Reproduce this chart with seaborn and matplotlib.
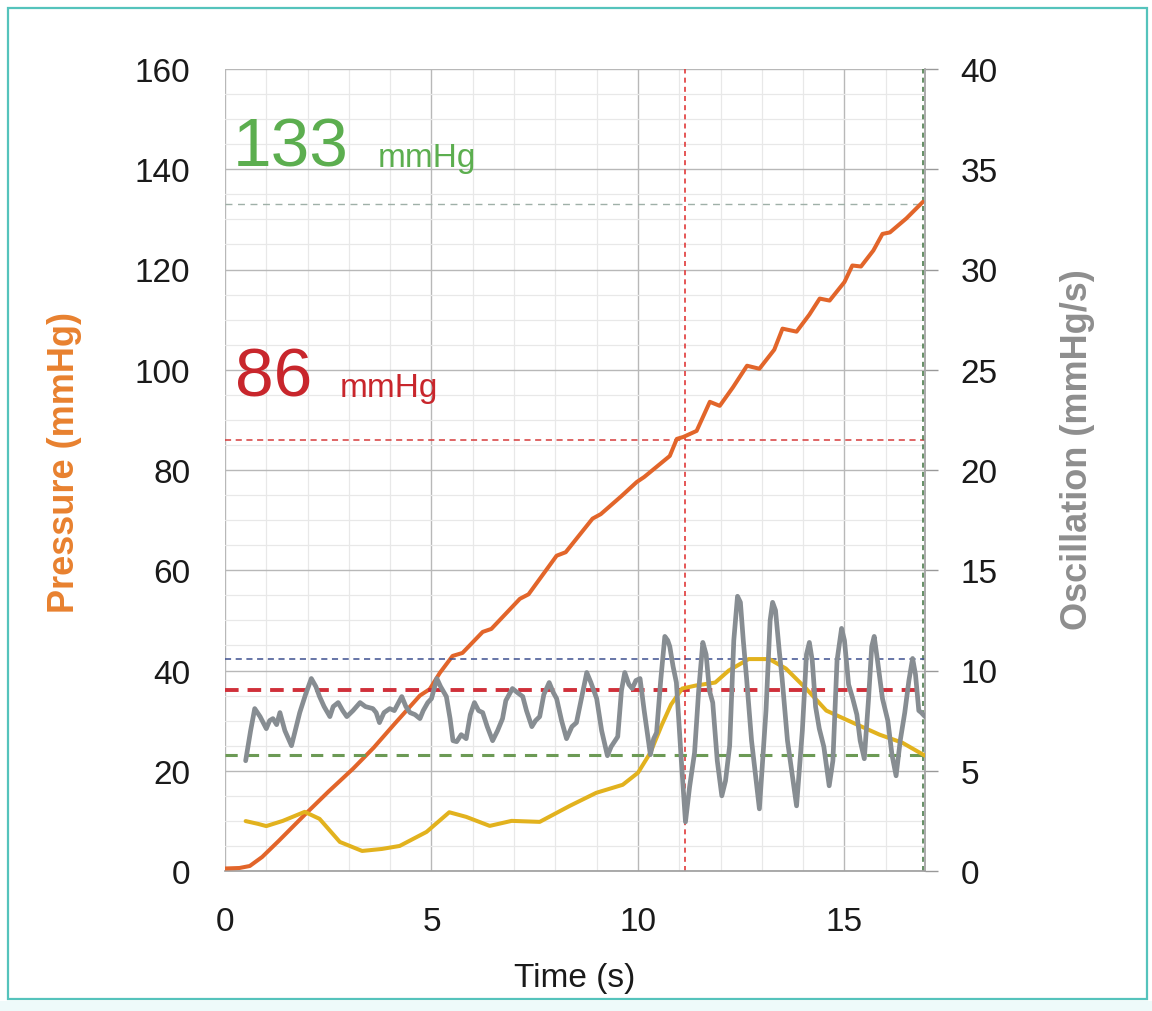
import numpy as np
import pandas as pd
import seaborn as sns
import matplotlib.pyplot as plt
from matplotlib.patches import Rectangle
from matplotlib.ticker import MultipleLocator

# cuff pressure (left axis, mmHg)
p_time = [0, 0.35, 0.6, 0.9, 1.3, 1.94, 2.5, 3.1, 3.6, 4.1, 4.72, 4.96, 5.2, 5.51, 5.75,
          6.24, 6.45, 7.14, 7.35, 8.03, 8.25, 8.9, 9.1, 9.6, 9.97, 10.15, 10.77, 10.94,
          11.1, 11.42, 11.74, 11.98, 12.3, 12.64, 12.94, 13.3, 13.5, 13.84, 14.15, 14.4,
          14.64, 15.0, 15.19, 15.4, 15.7, 15.92, 16.1, 16.5, 16.9]
p_mmhg = [0.5, 0.6, 1.0, 2.8, 6.0, 11.3, 15.8, 20.4, 24.6, 29.3, 35, 36.3, 39.5, 42.9, 43.5,
          47.7, 48.3, 54.3, 55.2, 62.9, 63.6, 70.3, 71.2, 74.8, 77.6, 78.6, 82.8, 86.2,
          86.6, 87.8, 93.6, 92.8, 96.5, 100.8, 100.2, 104, 108.2, 107.6, 111, 114.2,
          113.8, 117.5, 120.8, 120.6, 123.8, 127.1, 127.4, 130.2, 133.5]

# oscillation envelope (right axis, mmHg/s)
env_time = [0.5, 0.8, 1.0, 1.4, 1.93, 2.29, 2.78, 3.32, 3.8, 4.23, 4.88, 5.43, 5.84, 6.41,
            6.94, 7.62, 8.35, 8.99, 9.63, 10.0, 10.3, 10.58, 10.8, 11.07, 11.4, 11.87,
            12.2, 12.68, 13.18, 13.58, 14.07, 14.56, 15.2, 15.85, 16.4, 16.95]
env_val = [2.49, 2.35, 2.24, 2.5, 2.95, 2.6, 1.45, 1.0, 1.1, 1.25, 1.95, 2.93, 2.7, 2.25,
           2.5, 2.45, 3.25, 3.9, 4.3, 4.9, 5.9, 7.3, 8.3, 9.1, 9.25, 9.4,
           10.0, 10.57, 10.57, 10.1, 9.1, 8.0, 7.4, 6.8, 6.4, 5.75]

# raw oscillation signal (right axis, mmHg/s)
osc_time = [0.5, 0.62, 0.72, 0.85, 1.0, 1.08, 1.16, 1.25, 1.33, 1.45, 1.61, 1.7, 1.81,
            1.95, 2.09, 2.2, 2.29, 2.4, 2.54, 2.62, 2.74, 2.85, 2.95, 3.1, 3.27, 3.4,
            3.58, 3.66, 3.74, 3.85, 3.99, 4.1, 4.28, 4.38, 4.48, 4.6, 4.72, 4.8, 4.91,
            5.0, 5.13, 5.22, 5.36, 5.45, 5.52, 5.61, 5.72, 5.84, 5.94, 6.04, 6.14, 6.24,
            6.35, 6.48, 6.6, 6.72, 6.8, 6.96, 7.08, 7.21, 7.3, 7.43, 7.52, 7.62, 7.72,
            7.85, 7.95, 8.03, 8.15, 8.27, 8.4, 8.51, 8.62, 8.76, 8.86, 9.0, 9.12, 9.26,
            9.35, 9.51, 9.6, 9.68, 9.78, 9.86, 9.95, 10.05, 10.15, 10.3, 10.38, 10.45,
            10.55, 10.65, 10.72, 10.77, 10.85, 10.93, 11.05, 11.15, 11.25, 11.37, 11.47,
            11.57, 11.65, 11.73, 11.81, 11.92, 12.03, 12.12, 12.22, 12.32, 12.41, 12.48,
            12.55, 12.63, 12.75, 12.94, 13.1, 13.2, 13.26, 13.33, 13.42, 13.49, 13.62,
            13.84, 13.98, 14.08, 14.15, 14.22, 14.3, 14.39, 14.5, 14.63, 14.72, 14.82,
            14.93, 15.0, 15.1, 15.2, 15.3, 15.38, 15.48, 15.58, 15.66, 15.72, 15.8, 15.92,
            16.05, 16.15, 16.25, 16.35, 16.46, 16.56, 16.65, 16.72, 16.8, 16.86, 16.95]
osc_val = [5.5, 7.0, 8.1, 7.7, 7.1, 7.5, 7.6, 7.3, 7.9, 7.0, 6.25, 7.0, 7.9,
           8.8, 9.6, 9.2, 8.7, 8.2, 7.7, 8.2, 8.4, 8.0, 7.7, 8.0, 8.4, 8.2,
           8.1, 7.9, 7.4, 7.9, 8.1, 8.0, 8.7, 8.2, 7.9, 7.8, 7.6, 8.0, 8.4,
           8.6, 9.6, 9.2, 8.7, 7.6, 6.5, 6.45, 6.8, 6.6, 7.8, 8.4, 8.0, 7.9,
           7.2, 6.5, 7.0, 7.6, 8.5, 9.1, 8.9, 8.7, 8.0, 7.2, 7.5, 7.7, 8.8,
           9.4, 8.9, 8.6, 7.5, 6.6, 7.2, 7.4, 8.5, 9.9, 9.4, 8.6, 7.0, 5.75,
           6.2, 6.7, 9.0, 9.9, 9.3, 9.1, 9.5, 9.6, 8.0, 5.8, 6.6, 6.9,
           9.5, 11.7, 11.5, 11.2, 10.2, 9.4, 5.5, 2.45, 4.2, 5.9, 9.0,
           11.4, 10.8, 9.0, 8.4, 5.5, 3.75, 4.5, 6.25, 11.5, 13.7, 13.4,
           11.5, 9.6, 6.5, 3.1, 8.0, 12.5, 13.4, 13.0, 11.0, 9.6, 6.5,
           3.25, 7.0, 10.8, 11.4, 10.5, 8.2, 7.1, 6.2, 4.25, 5.5, 10.5,
           12.1, 11.5, 9.3, 8.6, 7.8, 6.5, 5.6, 8.5, 11.2, 11.7, 10.5, 8.6,
           7.5, 5.8, 4.75, 6.5, 7.9, 9.5, 10.6, 9.8, 8.0, 7.9, 7.7]

SYS = 133
DIA = 86
T_SYS = 16.9
T_DIA = 11.13
ENV_MAX = 10.55
DIA_LEVEL = 9.05
SYS_LEVEL = 5.8

pressure = pd.DataFrame({'t': p_time, 'p': p_mmhg})
envelope = pd.DataFrame({'t': env_time, 'v': env_val})
osc = pd.DataFrame({'t': osc_time, 'v': osc_val})

sns.set_theme(style='white')
plt.rcParams['font.family'] = ['Liberation Sans', 'DejaVu Sans']

fig = plt.figure(figsize=(11.52, 10.12), dpi=100)
fig.patches.append(Rectangle((0, 0), 1, 10 / 1012, transform=fig.transFigure,
                             facecolor='#eefafa', edgecolor='none', zorder=-5))
fig.patches.append(Rectangle((8 / 1152, 12 / 1012), 1139 / 1152, 991 / 1012,
                             transform=fig.transFigure, facecolor='none',
                             edgecolor='#55c3bc', lw=1.6, zorder=5))

ax = fig.add_axes([225 / 1152, 1 - 872 / 1012, 700 / 1152, 802 / 1012])
ax.set_facecolor('none')
ax2 = ax.twinx()

ax.set_xlim(0, 16.95)
ax.set_ylim(0, 160)
ax2.set_ylim(0, 40)
ax.xaxis.set_major_locator(MultipleLocator(5))
ax.xaxis.set_minor_locator(MultipleLocator(1))
ax.yaxis.set_major_locator(MultipleLocator(20))
ax.yaxis.set_minor_locator(MultipleLocator(5))
ax2.yaxis.set_major_locator(MultipleLocator(5))
ax.set_axisbelow(True)
ax.grid(which='minor', color='#e8e8e8', lw=0.9)
ax.grid(which='major', color='#b8b8b8', lw=1.0)

# reference lines
ax.axhline(SYS, color='#9fb0a8', lw=1.0, ls=(0, (5, 4)), zorder=1)
ax.axhline(DIA, color='#d63a3a', lw=1.1, ls=(0, (4, 3)), zorder=1)
ax.axvline(T_DIA, color='#e03a3a', lw=1.2, ls=(0, (3, 2.5)), zorder=1)
ax.axvline(T_SYS, color='#4d7d4d', lw=1.2, ls=(0, (3, 2.5)), zorder=1)
ax2.axhline(ENV_MAX, color='#3d4f8f', lw=1.1, ls=(0, (4, 3)), zorder=1)
ax2.axhline(DIA_LEVEL, color='#d0303a', lw=2.8, ls=(0, (3.5, 2.3)), zorder=1)
ax2.axhline(SYS_LEVEL, color='#6c9a55', lw=2.2, ls=(0, (4, 3)), zorder=1)

sns.lineplot(data=pressure, x='t', y='p', ax=ax, color='#e2652a', lw=2.9,
             errorbar=None, zorder=3)
sns.lineplot(data=envelope, x='t', y='v', ax=ax2, color='#e2b21e', lw=2.9,
             errorbar=None, zorder=3)
sns.lineplot(data=osc, x='t', y='v', ax=ax2, color='#878d92', lw=3.4,
             errorbar=None, zorder=4)

ax.text(0.19, 140.7, str(SYS), color='#5cae4f', fontsize=50, va='baseline')
ax.text(3.7, 140.7, 'mmHg', color='#5cae4f', fontsize=24, va='baseline')
ax.text(0.24, 94.8, str(DIA), color='#c8262c', fontsize=50, va='baseline')
ax.text(2.78, 94.8, 'mmHg', color='#c8262c', fontsize=24, va='baseline')

for s in ['top', 'left']:
    ax.spines[s].set_visible(False)
    ax2.spines[s].set_visible(False)
ax.spines['bottom'].set_color('#a0a0a0')
ax2.spines['bottom'].set_visible(False)
ax2.spines['right'].set_color('#a0a0a0')
ax.spines['right'].set_visible(False)

ax.tick_params(axis='y', which='both', length=0, pad=25, labelsize=24, labelcolor='#1a1a1a')
ax.tick_params(axis='x', which='both', length=0, pad=25, labelsize=24, labelcolor='#1a1a1a')
ax2.tick_params(axis='y', which='major', length=9.5, width=1, color='#999999',
                direction='out', pad=16, labelsize=24, labelcolor='#1a1a1a')

ax.set_xlabel('Time (s)', fontsize=24, color='#1a1a1a', labelpad=18)
ax.set_ylabel('Pressure (mmHg)', fontsize=26, fontweight='bold', color='#e8812f', labelpad=38)
ax2.set_ylabel('Oscillation (mmHg/s)', fontsize=26, fontweight='bold', color='#8e8e8e', labelpad=45)
ax.yaxis.label.set_y(0.511)
ax2.yaxis.label.set_y(0.527)

fig.savefig('out.png', dpi=100)
